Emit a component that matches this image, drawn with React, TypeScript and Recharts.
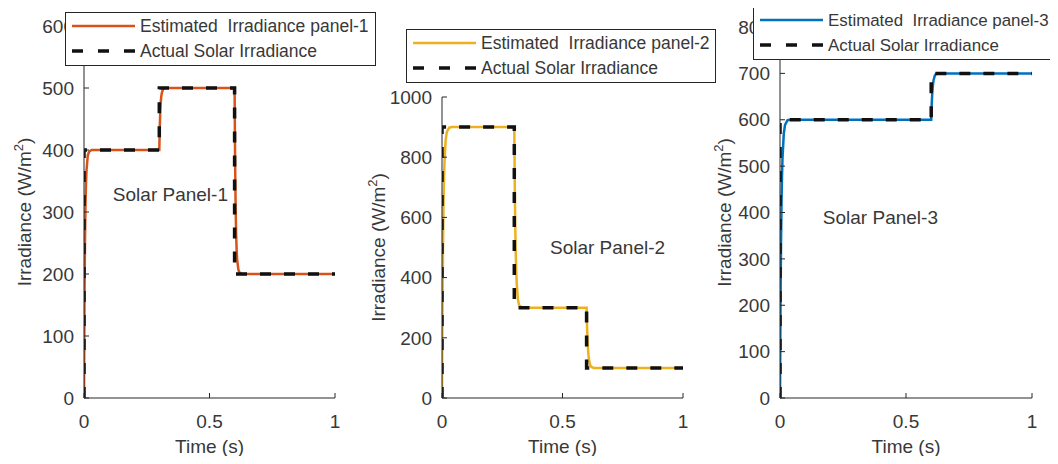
import { LineChart, Line, XAxis, YAxis, Legend, ReferenceDot } from 'recharts';

const FONT = '"Liberation Sans", Arial, sans-serif';
const INK = '#383838';

// panel 1 – solar panel 1
const actT1 = [0, 0, 0.3, 0.3, 0.6, 0.6, 1];
const actV1 = [0, 400, 400, 500, 500, 200, 200];
const estT1 = [0, 0.002, 0.004, 0.006, 0.008, 0.01, 0.015, 0.02, 0.03, 0.3, 0.302, 0.304, 0.306, 0.308, 0.31, 0.315, 0.32, 0.6, 0.602, 0.604, 0.606, 0.608, 0.61, 0.615, 0.62, 0.63, 1];
const estV1 = [0, 160, 255, 312, 346, 367, 391, 397, 400, 400, 439, 463, 478, 487, 492, 498, 500, 500, 382, 310, 266, 240, 224, 207, 202, 200, 200];

// panel 2
const actT2 = [0, 0, 0.3, 0.3, 0.6, 0.6, 1];
const actV2 = [0, 900, 900, 300, 300, 100, 100];
const estT2 = [0, 0.002, 0.004, 0.006, 0.008, 0.01, 0.015, 0.02, 0.03, 0.04, 0.3, 0.302, 0.304, 0.306, 0.308, 0.31, 0.315, 0.32, 0.33, 0.34, 0.6, 0.602, 0.604, 0.606, 0.608, 0.61, 0.615, 0.62, 0.63, 1];
const estV2 = [0, 300, 495, 628, 717, 777, 855, 884, 898, 900, 900, 702, 570, 481, 421, 381, 327, 308, 301, 300, 300, 234, 190, 160, 140, 127, 109, 103, 100, 100];

// panel 3
const actT3 = [0, 0, 0.6, 0.6, 1];
const actV3 = [0, 600, 600, 700, 700];
const estT3 = [0, 0.002, 0.004, 0.006, 0.008, 0.01, 0.015, 0.02, 0.03, 0.04, 0.6, 0.602, 0.604, 0.606, 0.608, 0.61, 0.615, 0.62, 0.63, 1];
const estV3 = [0, 198, 330, 419, 478, 518, 570, 589, 599, 600, 600, 633, 655, 670, 680, 687, 696, 699, 700, 700];

const xTicks = [0, 0.5, 1];
const yTicks1 = [0, 100, 200, 300, 400, 500, 600];
const yTicks2 = [0, 200, 400, 600, 800, 1000];
const yTicks3 = [0, 100, 200, 300, 400, 500, 600, 700, 800];

const estNames = ['Estimated  Irradiance panel-1', 'Estimated  Irradiance panel-2', 'Estimated  Irradiance panel-3'];
const actName = 'Actual Solar Irradiance';
const panelNames = ['Solar Panel-1', 'Solar Panel-2', 'Solar Panel-3'];
const colors = ['#D95319', '#EDB120', '#0072BD'];

const zip = (t: number[], v: number[]) => t.map((x, i) => ({ t: x, v: v[i] }));

function LegendBox({ color, name, width, fs }: { color: string; name: string; width: number; fs: number }) {
  return (
    <svg width={width} height={54} style={{ display: 'block' }}>
      <rect x={0.5} y={0.5} width={width - 1} height={53} fill='#fff' stroke='#262626' />
      <line x1={7} x2={70} y1={14} y2={14} stroke={color} strokeWidth={2.5} />
      <line x1={7} x2={70} y1={39} y2={39} stroke='#111' strokeWidth={3.5} strokeDasharray='11 15' />
      <text x={75} y={20} fontSize={fs} fill={INK} fontFamily={FONT} style={{ whiteSpace: 'pre' }}>{name}</text>
      <text x={75} y={45} fontSize={fs} fill={INK} fontFamily={FONT}>{actName}</text>
    </svg>
  );
}

const yTitle = (bx: number) => (props: any) => {
  const vb = props.viewBox || {};
  const cy = vb.y + vb.height / 2;
  return (
    <text
      x={bx}
      y={cy}
      transform={`rotate(-90 ${bx} ${cy})`}
      textAnchor='middle'
      fontSize={19}
      fill={INK}
      fontFamily={FONT}
    >
      Irradiance (W/m<tspan fontSize={13} dy={-8}>2</tspan><tspan dy={8}>)</tspan>
    </text>
  );
};

const xTitle = (props: any) => {
  const vb = props.viewBox || {};
  return (
    <text x={vb.x + vb.width / 2} y={453} textAnchor='middle' fontSize={19} fill={INK} fontFamily={FONT}>
      Time (s)
    </text>
  );
};

const noteLabel = (text: string) => (props: any) => {
  const vb = props.viewBox || {};
  return (
    <text x={vb.x} y={vb.y} dominantBaseline='central' fontSize={19} fill={INK} fontFamily={FONT}>
      {text}
    </text>
  );
};

interface PanelProps {
  idx: number;
  est: { t: number; v: number }[];
  act: { t: number; v: number }[];
  yMax: number;
  yTicks: number[];
  margin: { top: number; right: number; left: number; bottom: number };
  yWidth: number;
  titleX: number;
  legendPos: { left: number; top: number; width: number; fs: number };
  note: { x: number; y: number };
}

function Panel({ idx, est, act, yMax, yTicks, margin, yWidth, titleX, legendPos, note }: PanelProps) {
  const color = colors[idx];
  return (
    <div style={{ position: 'absolute', left: 0, top: 0 }}>
      <LineChart width={1058} height={464} margin={margin}>
        <XAxis
          type='number'
          dataKey='t'
          domain={[0, 1]}
          ticks={xTicks}
          tickSize={-5}
          tickMargin={22}
          height={60}
          stroke='#262626'
          tick={{ fill: INK, fontSize: 19, fontFamily: FONT }}
          label={{ content: xTitle }}
          allowDataOverflow
        />
        <XAxis
          xAxisId='top'
          orientation='top'
          type='number'
          dataKey='t'
          domain={[0, 1]}
          ticks={xTicks}
          tickSize={-5}
          tick={false}
          height={0}
          stroke='#262626'
          allowDataOverflow
        />
        <YAxis
          type='number'
          domain={[0, yMax]}
          ticks={yTicks}
          width={yWidth}
          tickSize={-5}
          tickMargin={15}
          stroke='#262626'
          tick={{ fill: INK, fontSize: 19, fontFamily: FONT }}
          label={{ content: yTitle(titleX) }}
          allowDataOverflow
        />
        <YAxis
          yAxisId='right'
          orientation='right'
          type='number'
          domain={[0, yMax]}
          ticks={yTicks}
          width={0}
          tickSize={-5}
          tick={false}
          stroke='#262626'
          allowDataOverflow
        />
        <Line
          data={est}
          dataKey='v'
          name={estNames[idx]}
          type='linear'
          stroke={color}
          strokeWidth={2.5}
          dot={false}
          isAnimationActive={false}
        />
        <Line
          data={act}
          dataKey='v'
          name={actName}
          type='linear'
          stroke='#111'
          strokeWidth={3.5}
          strokeDasharray='11 13'
          dot={false}
          isAnimationActive={false}
        />
        <ReferenceDot x={note.x} y={note.y} r={0} fill='none' stroke='none' label={{ content: noteLabel(panelNames[idx]) }} />
        <Legend
          layout='vertical'
          align='center'
          verticalAlign='middle'
          wrapperStyle={{ left: legendPos.left, top: legendPos.top, width: legendPos.width }}
          content={() => <LegendBox color={color} name={estNames[idx]} width={legendPos.width} fs={legendPos.fs} />}
        />
      </LineChart>
    </div>
  );
}

export default function App() {
  return (
    <div
      style={{
        position: 'relative',
        width: 1058,
        height: 464,
        margin: -8,
        overflow: 'hidden',
        background: '#fff',
      }}
    >
      <Panel
        idx={0}
        est={zip(estT1, estV1)}
        act={zip(actT1, actV1)}
        yMax={600}
        yTicks={yTicks1}
        margin={{ top: 26, right: 723, left: 0, bottom: 6 }}
        yWidth={84}
        titleX={31}
        legendPos={{ left: 65, top: 12, width: 311, fs: 17.5 }}
        note={{ x: 0.115, y: 329 }}
      />
      <Panel
        idx={1}
        est={zip(estT2, estV2)}
        act={zip(actT2, actV2)}
        yMax={1000}
        yTicks={yTicks2}
        margin={{ top: 97, right: 375, left: 360, bottom: 6 }}
        yWidth={82}
        titleX={385}
        legendPos={{ left: 406, top: 29, width: 310, fs: 17.5 }}
        note={{ x: 0.448, y: 500 }}
      />
      <Panel
        idx={2}
        est={zip(estT3, estV3)}
        act={zip(actT3, actV3)}
        yMax={800}
        yTicks={yTicks3}
        margin={{ top: 27, right: 26, left: 700, bottom: 6 }}
        yWidth={80}
        titleX={731}
        legendPos={{ left: 753, top: 6, width: 312, fs: 16.9 }}
        note={{ x: 0.17, y: 390 }}
      />
    </div>
  );
}
